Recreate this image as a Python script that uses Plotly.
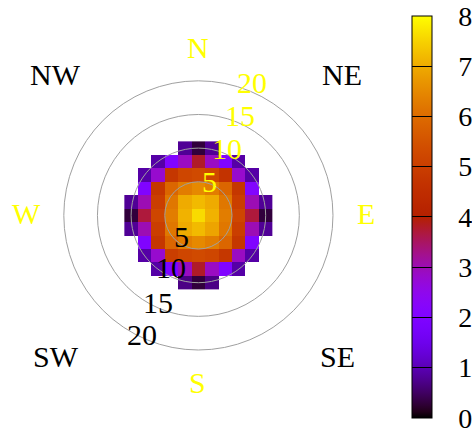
import math
import plotly.graph_objects as go

# Grid of sample positions (cell centres, 2 units apart)
x_vals = [-10, -8, -6, -4, -2, 0, 2, 4, 6, 8, 10]
y_vals = [10, 8, 6, 4, 2, 0, -2, -4, -6, -8, -10]

N = None
# Values per row, top (y=10) to bottom (y=-10); None = outside the disc
row_p10 = [N, N, N, N, 0.8, 0.3, 0.8, N, N, N, N]
row_p8 = [N, N, 0.9, 2.0, 2.9, 3.8, 2.9, 2.0, 0.9, N, N]
row_p6 = [N, 0.9, 2.8, 4.8, 5.2, 5.3, 5.2, 4.7, 2.8, 0.9, N]
row_p4 = [N, 2.0, 4.8, 5.9, 6.3, 6.5, 6.3, 5.9, 4.8, 2.1, N]
row_p2 = [0.8, 3.0, 5.0, 6.2, 7.0, 7.2, 7.0, 6.2, 5.0, 3.0, 0.8]
row_0 = [0.3, 3.7, 5.2, 6.3, 7.1, 7.6, 7.1, 6.3, 5.2, 3.7, 0.3]
row_m2 = [0.8, 3.0, 5.0, 6.2, 7.0, 7.2, 6.9, 6.2, 5.0, 3.0, 0.8]
row_m4 = [N, 2.0, 4.8, 5.9, 6.3, 6.5, 6.3, 5.9, 4.8, 2.0, N]
row_m6 = [N, 0.9, 2.8, 5.0, 5.2, 5.3, 5.2, 4.8, 2.9, 0.9, N]
row_m8 = [N, N, 0.9, 2.0, 2.9, 3.8, 2.9, 2.0, 0.9, N, N]
row_m10 = [N, N, N, N, 0.7, 0.3, 0.7, N, N, N, N]

z_rows = [row_p10, row_p8, row_p6, row_p4, row_p2, row_0,
          row_m2, row_m4, row_m6, row_m8, row_m10]

ring_radii = [5, 10, 15, 20]
cb_ticks = [0, 1, 2, 3, 4, 5, 6, 7, 8]


def palette(n=64):
    """gnuplot rgbformulae 7,5,15: sqrt(x), x^3, sin(2*pi*x)."""
    stops = []
    for i in range(n + 1):
        t = i / n
        r = math.sqrt(t)
        g = t ** 3
        b = min(1.0, max(0.0, math.sin(2 * math.pi * t)))
        stops.append([t, f"rgb({round(r*255)},{round(g*255)},{round(b*255)})"])
    return stops


SERIF = "Liberation Serif, Times New Roman, serif"
FS = 30
CB_FS = 28

fig = go.Figure()
fig.add_trace(go.Heatmap(
    x=x_vals, y=y_vals, z=z_rows,
    zmin=0, zmax=8, colorscale=palette(),
    hoverongaps=False,
    colorbar=dict(
        xref="container", x=412 / 472, xanchor="left", xpad=0,
        yref="container", y=1 - 216.85 / 429, yanchor="middle", ypad=0,
        len=401.7 / 429, lenmode="fraction",
        thickness=20, thicknessmode="pixels",
        outlinecolor="black", outlinewidth=1,
        tickmode="array", tickvals=cb_ticks,
        ticktext=["\u00a0\u00a0\u2009" + str(v) for v in cb_ticks],
        ticks="inside", ticklen=20, tickcolor="black", tickwidth=1,
        ticklabeloverflow="allow",
        tickfont=dict(family=SERIF, size=CB_FS, color="black"),
    ),
))

for r in ring_radii:
    fig.add_shape(type="circle", xref="x", yref="y",
                  x0=-r, y0=-r, x1=r, y1=r,
                  line=dict(color="#a0a0a0", width=1), layer="above")

# Compass labels
compass = [
    ("N", -0.06, 25.0, "yellow"), ("S", -0.06, -24.9, "yellow"),
    ("W", -25.5, 0.3, "yellow"), ("E", 24.9, 0.3, "yellow"),
    ("NW", -21.3, 21.0, "black"), ("NE", 21.3, 21.0, "black"),
    ("SW", -21.2, -20.9, "black"), ("SE", 20.6, -20.9, "black"),
]
for txt, tx, ty, col in compass:
    fig.add_annotation(x=tx, y=ty, text=txt, showarrow=False,
                       font=dict(family=SERIF, size=FS, color=col))

# Ring labels: yellow toward the north-east, black toward the south-west
ring_label_ne = [(5, 1.7, 5.1), (10, 4.25, 10.0), (15, 6.2, 14.9), (20, 7.96, 19.8)]
ring_label_sw = [(5, -2.44, -3.06), (10, -4.07, -7.8), (15, -6.0, -12.9), (20, -8.4, -17.7)]
for r, tx, ty in ring_label_ne:
    fig.add_annotation(x=tx, y=ty, text=str(r), showarrow=False,
                       font=dict(family=SERIF, size=FS, color="yellow"))
for r, tx, ty in ring_label_sw:
    fig.add_annotation(x=tx, y=ty, text=str(r), showarrow=False,
                       font=dict(family=SERIF, size=FS, color="black"))

fig.update_xaxes(range=[-29.48, 29.96], visible=False, showgrid=False, zeroline=False)
fig.update_yaxes(range=[-31.74, 32.01], visible=False, showgrid=False, zeroline=False)
fig.update_layout(
    width=472, height=429,
    margin=dict(l=0, r=72, t=0, b=0),
    paper_bgcolor="white", plot_bgcolor="white",
    showlegend=False,
)

fig.write_html("out.html")
